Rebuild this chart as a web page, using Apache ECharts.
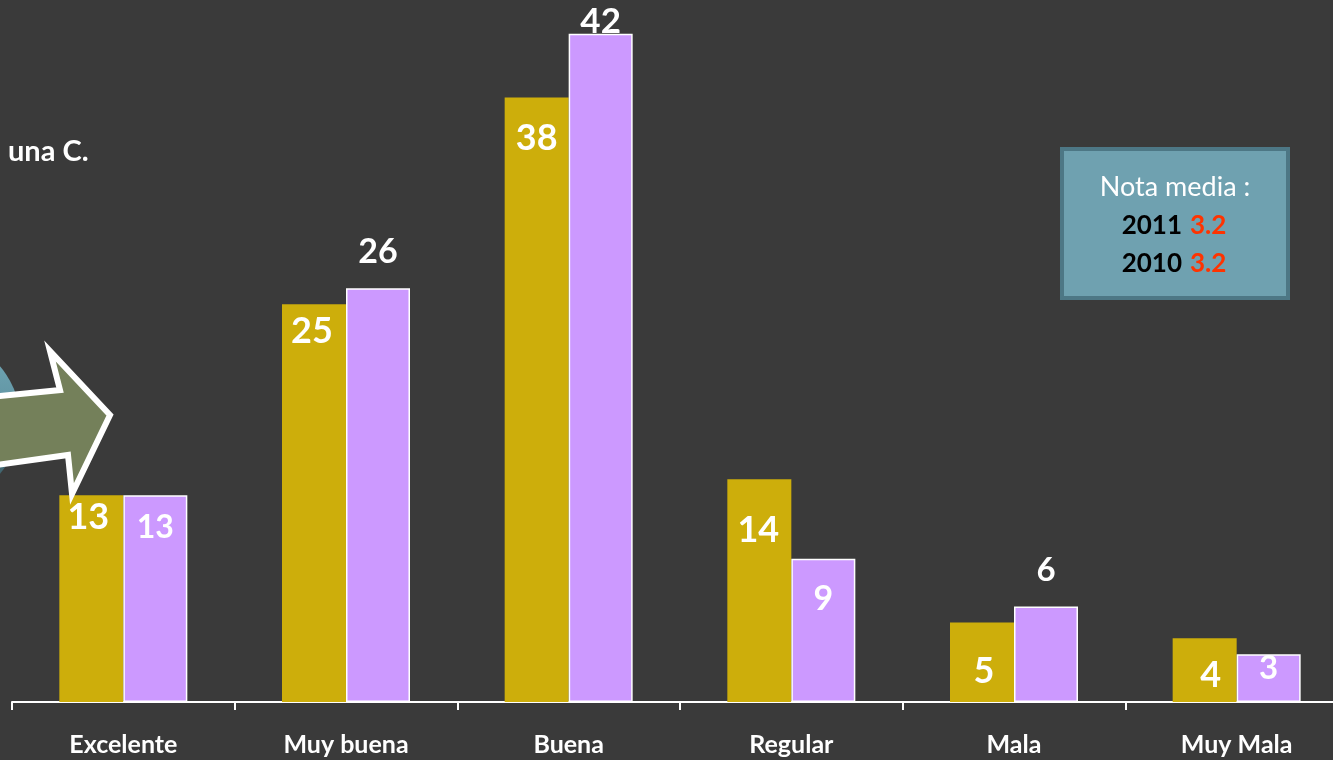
<!DOCTYPE html>
<html><head><meta charset="utf-8">
<script src="https://cdn.jsdelivr.net/npm/echarts@6/dist/echarts.min.js"></script>
<style>html,body{margin:0;padding:0;background:#3a3a3a;overflow:hidden}#c{width:1350px;height:760px}</style>
</head><body><div id="c"></div>
<script>
const categories = ['Excelente', 'Muy buena', 'Buena', 'Regular', 'Mala', 'Muy Mala'];
const values2011 = [13, 25, 38, 14, 5, 4];
const values2010 = [13, 26, 42, 9, 6, 3];
const noteTitle = 'Nota media :';
const noteYears = ['2011', '2010'];
const noteValues = ['3.2', '3.2'];
const sideText = 'una C.';

// label placement styles (pixel offsets of label centre from bar top; negative = above bar)
const goldLabelDy = [22, 27, 41, 51, 49, 37];
const goldLabelDx = [-3, -2, 0, -1, 2, 6];
const lavLabelDy = [33, -36, -12, 40, -36, 14];
const lavLabelDx = [0, 0, 0, 0, 0, 0];
const goldLabelSize = [36, 36, 36, 36, 36, 36];
const lavLabelSize = [32, 34, 35, 34, 33, 33];
const noteRowY = [226, 264];

const FONT = 'Lato, "Open Sans", sans-serif';
const chart = echarts.init(document.getElementById('c'));

function mk(vals, dys, dxs, sizes) {
  return vals.map((v, i) => ({
    value: v,
    label: {
      show: true, position: 'insideTop', distance: 0,
      offset: [dxs[i], dys[i] - sizes[i] * 0.5],
      color: '#ffffff', fontWeight: 'bold', fontSize: sizes[i], fontFamily: FONT
    }
  }));
}

const noteRows = [];
noteYears.forEach((yr, i) => {
  noteRows.push({ type: 'text', z: 6, x: 1182, y: noteRowY[i],
    style: { text: yr, fill: '#000000', fontSize: 26, fontWeight: 'bold', fontFamily: FONT, align: 'right', verticalAlign: 'middle' } });
  noteRows.push({ type: 'text', z: 6, x: 1190, y: noteRowY[i],
    style: { text: noteValues[i], fill: '#ff3300', fontSize: 26, fontWeight: 'bold', fontFamily: FONT, align: 'left', verticalAlign: 'middle' } });
});

const option = {
  backgroundColor: '#3a3a3a',
  animation: false,
  grid: { left: 12, top: 2, bottom: 58, right: 2, containLabel: false },
  xAxis: {
    type: 'category', data: categories,
    axisLine: { lineStyle: { color: '#ffffff', width: 2 } },
    axisTick: { show: true, length: 8, lineStyle: { color: '#ffffff', width: 2 } },
    axisLabel: { color: '#ffffff', fontWeight: 'bold', fontSize: 25, fontFamily: FONT, margin: 30 }
  },
  yAxis: { type: 'value', min: 0, max: 44, show: false, splitLine: { show: false } },
  series: [
    { name: '2011', type: 'bar', data: mk(values2011, goldLabelDy, goldLabelDx, goldLabelSize),
      barWidth: 64, barGap: '0%', itemStyle: { color: '#cdae0b' }, z: 2 },
    { name: '2010', type: 'bar', data: mk(values2010, lavLabelDy, lavLabelDx, lavLabelSize),
      barWidth: 64, itemStyle: { color: '#cc99ff', borderColor: '#ffffff', borderWidth: 1.5 }, z: 2 }
  ],
  graphic: [
    { type: 'text', x: 8, y: 152, style: { text: sideText, fill: '#ffffff', fontSize: 29, fontWeight: 'bold', fontFamily: FONT, verticalAlign: 'middle' } },
    { type: 'circle', shape: { cx: -62, cy: 420, r: 82 }, z: 1,
      style: { fill: new echarts.graphic.LinearGradient(0, 0, 0, 1, [
        { offset: 0, color: '#74a9b8' }, { offset: 0.55, color: '#5a8e9c' }, { offset: 1, color: '#2f4a52' }]) } },
    { type: 'polygon', z: 3,
      shape: { points: [[-10, 397], [60, 390], [50, 351], [110, 415], [72, 494], [68, 455], [-10, 466]] },
      style: { fill: '#74805a', stroke: '#ffffff', lineWidth: 6, lineJoin: 'miter' } },
    { type: 'rect', z: 5, shape: { x: 1062, y: 149, width: 226, height: 149 },
      style: { fill: '#6fa1b0', stroke: '#4d7785', lineWidth: 4 } },
    { type: 'text', z: 6, x: 1175, y: 187,
      style: { text: noteTitle, fill: '#ffffff', fontSize: 27, fontFamily: FONT, align: 'center', verticalAlign: 'middle' } }
  ].concat(noteRows)
};
chart.setOption(option);
</script></body></html>
